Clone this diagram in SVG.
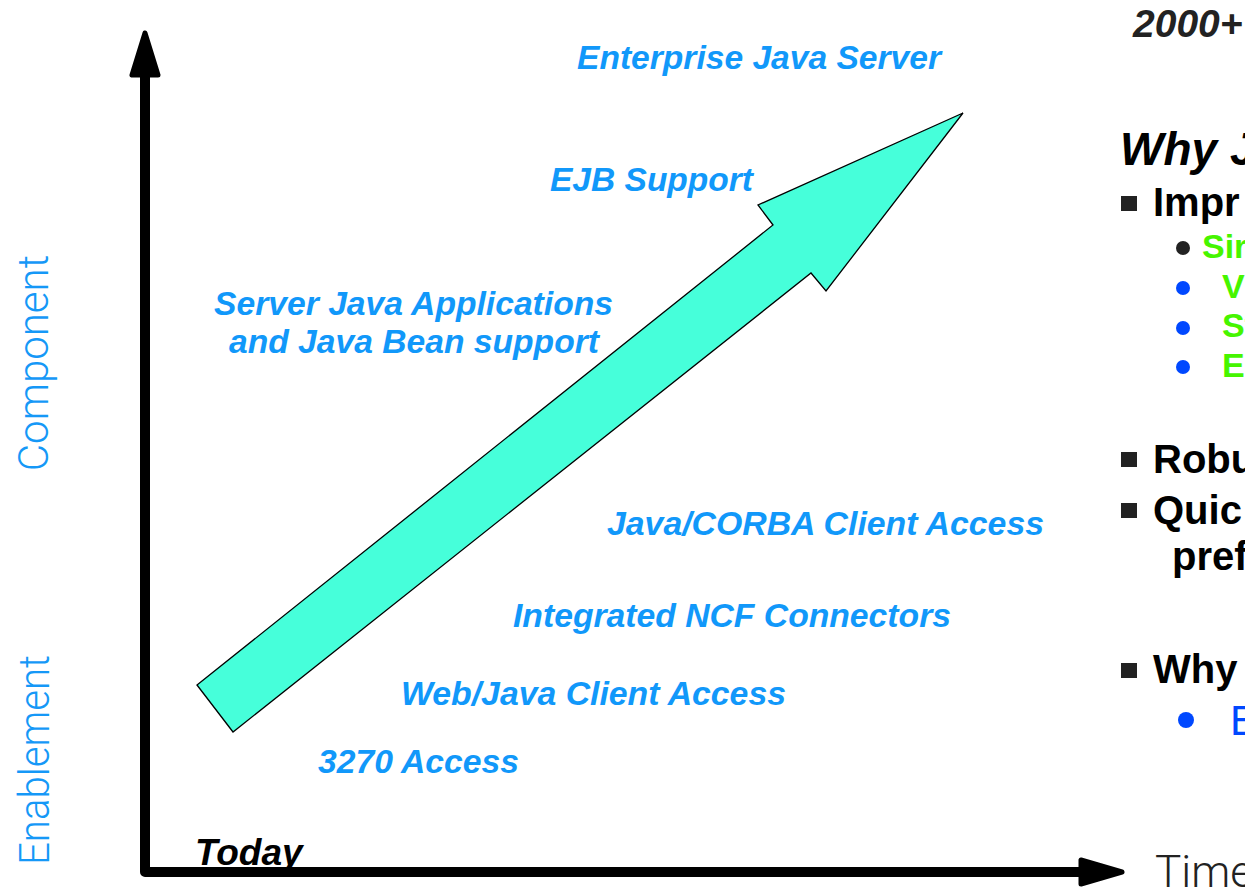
<svg xmlns="http://www.w3.org/2000/svg" width="1245" height="888" viewBox="0 0 1245 888">
<style>
.lbl{font-family:"Liberation Sans",Arial,sans-serif;font-weight:bold;font-style:italic;fill:#1198fa;font-size:33px}
.cond{font-size:34px}
.axis{font-family:Roboto,"Open Sans",sans-serif;font-weight:300;fill:#1598f7;font-size:42px}
.rt{font-family:"Liberation Sans",Arial,sans-serif;font-weight:bold;fill:#000;font-size:40px}
.sub{font-family:"Liberation Sans",Arial,sans-serif;font-weight:bold;fill:#46f500;font-size:34px}
</style>
<rect width="1245" height="888" fill="#fff"/>
<g id="axes">
<path d="M145,77 L145,872 L1082,872" fill="none" stroke="#000" stroke-width="10" stroke-linejoin="round"/>
<polygon points="145,33 132,75 158,75" fill="#000" stroke="#000" stroke-width="5" stroke-linejoin="round"/>
<polygon points="1081,860 1081,884 1122,872" fill="#000" stroke="#000" stroke-width="5" stroke-linejoin="round"/>
</g>
<g id="growth-arrow">
<polygon points="197,685 773,225 758,205 963,113 826,291 811,273 233,732" fill="#46ffda" stroke="#000" stroke-width="1.3" stroke-linejoin="miter"/>
</g>
<g id="axis-labels">
<text class="axis" transform="translate(48,363) rotate(-90)" text-anchor="middle">Component</text>
<text class="axis" transform="translate(49,760) rotate(-90)" text-anchor="middle" textLength="210" lengthAdjust="spacingAndGlyphs">Enablement</text>
<text x="1155" y="887" font-family="Roboto,'Open Sans',sans-serif" font-weight="300" font-size="44" fill="#222">Time</text>
<text x="195" y="865" font-family="'Liberation Sans',Arial,sans-serif" font-weight="bold" font-style="italic" font-size="37" fill="#000">Today</text>
</g>
<g id="milestones">
<text id="ejs" class="lbl" x="577" y="69" textLength="364" lengthAdjust="spacingAndGlyphs">Enterprise Java Server</text>
<text id="ejb" class="lbl" x="550" y="191" textLength="203" lengthAdjust="spacingAndGlyphs">EJB Support</text>
<text id="sja" class="lbl" x="214" y="315" textLength="399" lengthAdjust="spacingAndGlyphs">Server Java Applications</text>
<text id="jbs" class="lbl" x="229" y="353" textLength="370" lengthAdjust="spacingAndGlyphs">and Java Bean support</text>
<text id="corba" class="lbl cond" x="607" y="535" textLength="437" lengthAdjust="spacingAndGlyphs">Java/CORBA Client Access</text>
<text id="ncf" class="lbl cond" x="513" y="627" textLength="438" lengthAdjust="spacingAndGlyphs">Integrated NCF Connectors</text>
<text id="web" class="lbl cond" x="401" y="705" textLength="385" lengthAdjust="spacingAndGlyphs">Web/Java Client Access</text>
<text id="t3270" class="lbl cond" x="318" y="773" textLength="201" lengthAdjust="spacingAndGlyphs">3270 Access</text>
</g>
<g id="right-panel">
<text x="1133" y="37" font-family="'Liberation Sans',Arial,sans-serif" font-weight="bold" font-style="italic" font-size="39" fill="#222">2000+</text>
<text x="1120" y="165" font-family="'Liberation Sans',Arial,sans-serif" font-weight="bold" font-style="italic" font-size="46" fill="#000">Why J</text>
<rect x="1121" y="196" width="16" height="15" fill="#222"/>
<text class="rt" x="1153" y="216">Impr</text>
<circle cx="1183" cy="248" r="7" fill="#222"/>
<text class="sub" x="1202" y="258">Sir</text>
<circle cx="1183" cy="288" r="7" fill="#0048ff"/>
<text class="sub" x="1222" y="298">V</text>
<circle cx="1183" cy="328" r="7" fill="#0048ff"/>
<text class="sub" x="1222" y="337">St</text>
<circle cx="1183" cy="367" r="7" fill="#0048ff"/>
<text class="sub" x="1222" y="377">E</text>
<rect x="1121" y="452" width="16" height="15" fill="#222"/>
<text class="rt" x="1153" y="473">Robu</text>
<rect x="1121" y="503" width="16" height="15" fill="#222"/>
<text class="rt" x="1153" y="524">Quic</text>
<text class="rt" x="1172" y="570">pref</text>
<rect x="1121" y="663" width="16" height="15" fill="#222"/>
<text class="rt" x="1153" y="683">Why</text>
<circle cx="1186" cy="720" r="8" fill="#0048ff"/>
<text x="1230" y="735" font-family="'Liberation Sans',Arial,sans-serif" font-size="42" fill="#0048ff">E</text>
</g>
</svg>
